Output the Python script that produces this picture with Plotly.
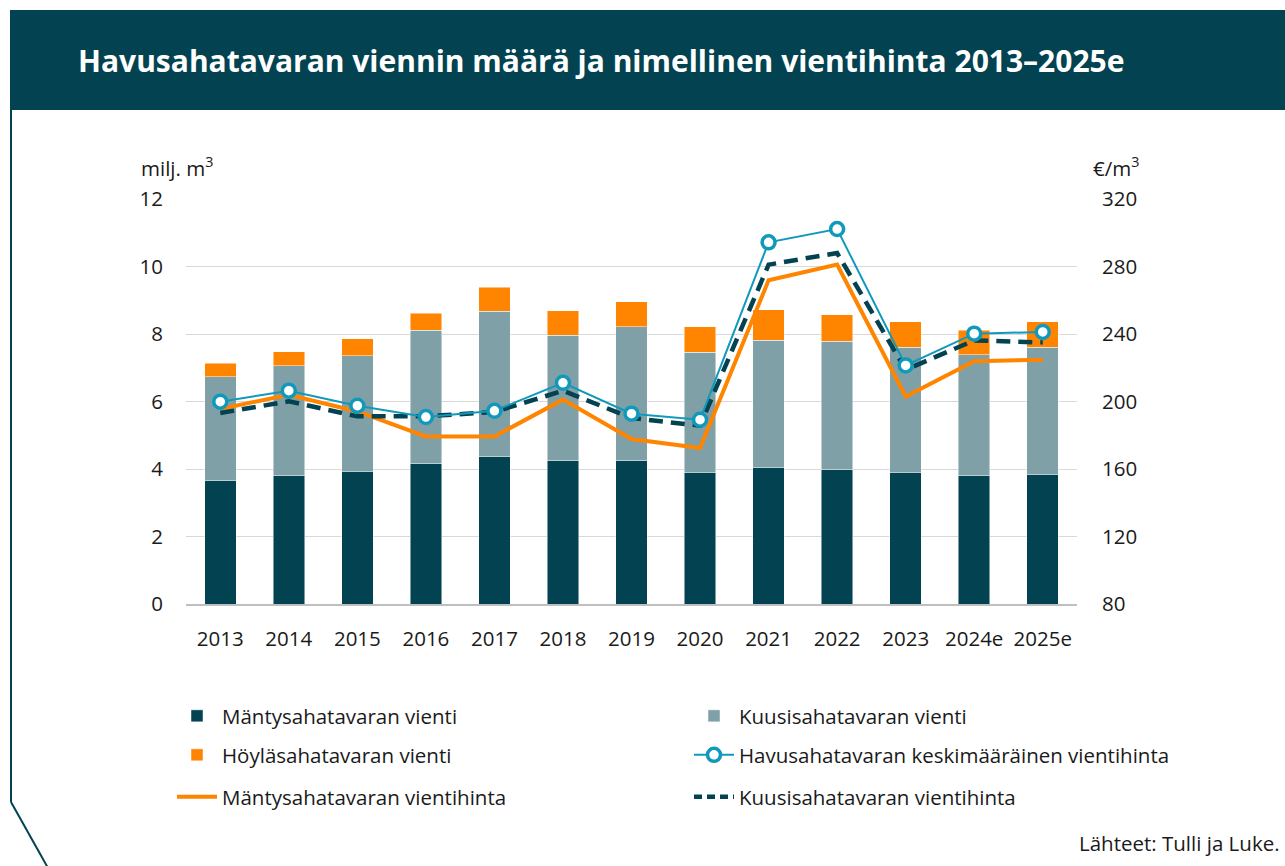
import plotly.graph_objects as go

years = ["2013", "2014", "2015", "2016", "2017", "2018", "2019", "2020", "2021", "2022", "2023", "2024e", "2025e"]

# Export volumes, million m3 (stack components)
manty_vienti = [3.65, 3.80, 3.93, 4.16, 4.37, 4.25, 4.25, 3.90, 4.04, 3.98, 3.90, 3.80, 3.84]
kuusi_vienti = [3.08, 3.26, 3.42, 3.95, 4.31, 3.72, 3.96, 3.56, 3.78, 3.81, 3.71, 3.58, 3.77]
hoyla_vienti = [0.40, 0.41, 0.51, 0.51, 0.70, 0.72, 0.74, 0.75, 0.90, 0.78, 0.75, 0.73, 0.75]

# Export prices, EUR/m3
havu_hinta = [199.9, 206.4, 197.5, 190.8, 194.5, 211.1, 192.8, 189.2, 294.3, 302.2, 221.4, 240.2, 241.2]
manty_hinta = [195.6, 204.0, 194.1, 179.3, 179.3, 201.1, 177.8, 172.4, 271.8, 281.1, 203.0, 223.8, 224.8]
kuusi_hinta = [193.2, 200.1, 191.2, 191.2, 193.8, 206.4, 190.2, 185.7, 281.1, 288.0, 218.8, 236.2, 235.0]

left_ticks = [0, 2, 4, 6, 8, 10, 12]
right_ticks = [80, 120, 160, 200, 240, 280, 320]

DARK = "#024251"
GREY = "#7FA0A7"
ORANGE = "#FF8500"
BLUE = "#1199BC"
FONT = "Open Sans"
TXT = "#1a1a1a"

W, H = 1285, 866
L, R, T, B = 186, 1077, 199, 604


def px(x):
    return (x - L) / (R - L)


def py(y):
    return (B - y) / (B - T)


fig = go.Figure()
bar_line = dict(color="rgba(255,255,255,0.6)", width=0.8)
fig.add_trace(go.Bar(x=years, y=manty_vienti, name="Mäntysahatavaran vienti",
                     marker=dict(color=DARK, line=bar_line), width=0.46, legend="legend"))
fig.add_trace(go.Bar(x=years, y=kuusi_vienti, name="Kuusisahatavaran vienti",
                     marker=dict(color=GREY, line=bar_line), width=0.46, legend="legend"))
fig.add_trace(go.Bar(x=years, y=hoyla_vienti, name="Höyläsahatavaran vienti",
                     marker=dict(color=ORANGE, line=bar_line), width=0.46, legend="legend2"))
fig.add_trace(go.Scatter(x=years, y=manty_hinta, name="Mäntysahatavaran vientihinta", yaxis="y2",
                         mode="lines", line=dict(color=ORANGE, width=4), legend="legend3",
                         showlegend=False))
fig.add_trace(go.Scatter(x=years, y=kuusi_hinta, name="Kuusisahatavaran vientihinta", yaxis="y2",
                         mode="lines", line=dict(color=DARK, width=4.5, dash="14px,8px"),
                         legend="legend3", showlegend=False))
fig.add_trace(go.Scatter(x=years, y=havu_hinta, name="Havusahatavaran keskimääräinen vientihinta",
                         yaxis="y2", mode="lines+markers",
                         line=dict(color=BLUE, width=2),
                         marker=dict(size=13, color="white", line=dict(color=BLUE, width=3.5)),
                         legend="legend2"))
# legend-only entries to keep the reference's row order
fig.add_trace(go.Scatter(x=[None], y=[None], name="Mäntysahatavaran vientihinta", yaxis="y2",
                         mode="lines", line=dict(color=ORANGE, width=4), legend="legend3"))
fig.add_trace(go.Scatter(x=[None], y=[None], name="Kuusisahatavaran vientihinta", yaxis="y2",
                         mode="lines", line=dict(color=DARK, width=4.5, dash="8px,5px"),
                         legend="legend3"))

leg_common = dict(orientation="h", xanchor="left", yanchor="middle", entrywidth=462,
                  entrywidthmode="pixels", itemwidth=40, traceorder="normal",
                  font=dict(family=FONT, size=20.5, color=TXT), bgcolor="rgba(0,0,0,0)",
                  itemclick=False, itemdoubleclick=False)

shapes = [
    dict(type="rect", xref="paper", yref="paper", x0=px(10), x1=px(1290), y0=py(110), y1=py(10),
         fillcolor=DARK, line=dict(width=0), layer="below"),
    dict(type="line", xref="paper", yref="paper", x0=px(11), x1=px(11), y0=py(110), y1=py(802),
         line=dict(color=DARK, width=2)),
    dict(type="line", xref="paper", yref="paper", x0=px(11), x1=px(48), y0=py(802), y1=py(868),
         line=dict(color=DARK, width=2)),
]

annotations = [
    dict(text="<b>Havusahatavaran viennin määrä ja nimellinen vientihinta 2013–2025e</b>",
         xref="paper", yref="paper", x=px(76), y=py(60), xanchor="left", yanchor="middle",
         showarrow=False, font=dict(family=FONT, size=30, color="white")),
    dict(text="milj. m<sup>3</sup>", xref="paper", yref="paper", x=px(139), y=py(167),
         xanchor="left", yanchor="middle", showarrow=False,
         font=dict(family=FONT, size=20.5, color=TXT)),
    dict(text="€/m<sup>3</sup>", xref="paper", yref="paper", x=px(1091), y=py(167),
         xanchor="left", yanchor="middle", showarrow=False,
         font=dict(family=FONT, size=20.5, color=TXT)),
    dict(text="Lähteet: Tulli ja Luke.", xref="paper", yref="paper", x=px(1282), y=py(843),
         xanchor="right", yanchor="middle", showarrow=False,
         font=dict(family=FONT, size=20.5, color=TXT)),
]

tickfont = dict(family=FONT, size=20.5, color=TXT)

fig.update_layout(
    width=W, height=H,
    margin=dict(l=L, r=W - R, t=T, b=H - B, pad=0),
    paper_bgcolor="white", plot_bgcolor="white",
    barmode="stack", bargap=0.5,
    font=dict(family=FONT, size=20.5, color=TXT),
    showlegend=True,
    legend=dict(x=px(172), y=py(716), **leg_common),
    legend2=dict(x=px(172), y=py(755), **leg_common),
    legend3=dict(x=px(172), y=py(797), **leg_common),
    xaxis=dict(type="category", categoryorder="array", categoryarray=years,
               range=[-0.5, len(years) - 0.5],
               showline=True, linecolor="#BFBFBF", linewidth=1.5, ticks="",
               showgrid=False, ticklabelstandoff=16, tickfont=tickfont),
    yaxis=dict(range=[0, 12], tickvals=left_ticks, showgrid=True, gridcolor="#D9D9D9",
               gridwidth=1, zeroline=False, showline=False, ticks="",
               ticklabelstandoff=22, tickfont=tickfont),
    yaxis2=dict(range=[80, 320], tickvals=right_ticks, overlaying="y", side="right",
                showgrid=False, zeroline=False, showline=False, ticks="",
                ticklabelstandoff=24, tickfont=tickfont),
    shapes=shapes,
    annotations=annotations,
)

fig.write_html("out.html", config={"displayModeBar": False},
               post_script="document.body.style.margin='0';")
